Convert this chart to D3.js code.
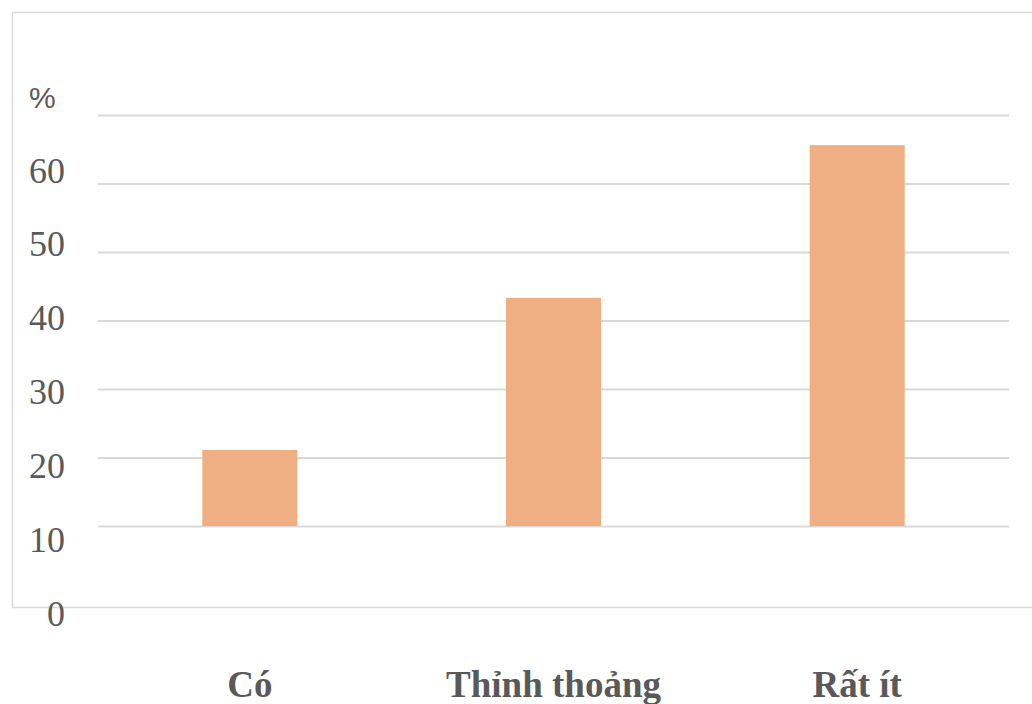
<!DOCTYPE html>
<html>
<head>
<meta charset="utf-8">
<script src="https://cdn.jsdelivr.net/npm/d3@7/dist/d3.min.js"></script>
<style>
  html, body { margin: 0; padding: 0; background: #fff; }
  svg { display: block; }
</style>
</head>
<body>
<svg id="chart" width="1032" height="704"></svg>
<script>
// Share of answers (%) per frequency category
const categories = ["Có", "Thỉnh thoảng", "Rất ít"];
const values = [11.1, 33.3, 55.6];
const gridValues = [0, 10, 20, 30, 40, 50, 60];
const tickLabels = ["0", "10", "20", "30", "40", "50", "60"];
const unitLabel = "%";

const svg = d3.select("#chart");
const W = 1032, H = 704;
const plot = { left: 98, right: 1009, top: 115, bottom: 526 };

const gray = "#595959";
const gridColor = "#d9d9d9";
const barColor = "#EFAF83";

// Chart frame (left, top and bottom edges)
svg.append("path")
  .attr("d", `M${W},12.5 H12.5 V607.5 H${W}`)
  .attr("fill", "none")
  .attr("stroke", gridColor)
  .attr("stroke-width", 1.5);

const x = d3.scaleBand()
  .domain(categories)
  .range([plot.left, plot.right])
  .paddingInner(0.687)
  .paddingOuter(0.3435);

const y = d3.scaleLinear()
  .domain([0, 60])
  .range([plot.bottom, plot.top]);

// Horizontal gridlines
const grid = svg.append("g")
  .attr("transform", `translate(${plot.left},0)`)
  .call(d3.axisLeft(y)
    .tickValues(gridValues)
    .tickSize(-(plot.right - plot.left))
    .tickFormat(""));
grid.select(".domain").remove();
grid.selectAll(".tick line")
  .attr("stroke", gridColor)
  .attr("stroke-width", 2);

// Bars
svg.append("g").selectAll("rect")
  .data(values)
  .join("rect")
  .attr("x", (d, i) => x(categories[i]))
  .attr("width", x.bandwidth())
  .attr("y", d => y(d))
  .attr("height", d => y(0) - y(d))
  .attr("fill", barColor);

// Value labels of the axis, set on their own baseline scale below the gridlines
const labelY = d3.scaleLinear()
  .domain([0, 60])
  .range([625, 182]);

const tickAxis = svg.append("g")
  .attr("transform", "translate(65,0)")
  .call(d3.axisLeft(labelY)
    .tickValues(gridValues)
    .tickSize(0)
    .tickPadding(0)
    .tickFormat((d, i) => tickLabels[i]));
tickAxis.select(".domain").remove();
tickAxis.selectAll(".tick text")
  .attr("dy", 0)
  .attr("fill", gray)
  .attr("font-family", "'Liberation Serif', 'Times New Roman', serif")
  .attr("font-size", 36);

// Unit label
svg.append("text")
  .attr("x", 29)
  .attr("y", 108)
  .attr("fill", gray)
  .attr("font-family", "'Liberation Sans', Arial, sans-serif")
  .attr("font-size", 30)
  .text(unitLabel);

// Category labels
const xAxis = svg.append("g")
  .attr("transform", "translate(0,697)")
  .call(d3.axisBottom(x).tickSize(0).tickPadding(0));
xAxis.select(".domain").remove();
xAxis.selectAll(".tick text")
  .attr("dy", 0)
  .attr("y", 0)
  .attr("fill", gray)
  .attr("font-family", "'Liberation Serif', 'Times New Roman', serif")
  .attr("font-weight", "bold")
  .attr("font-size", 37);
</script>
</body>
</html>
